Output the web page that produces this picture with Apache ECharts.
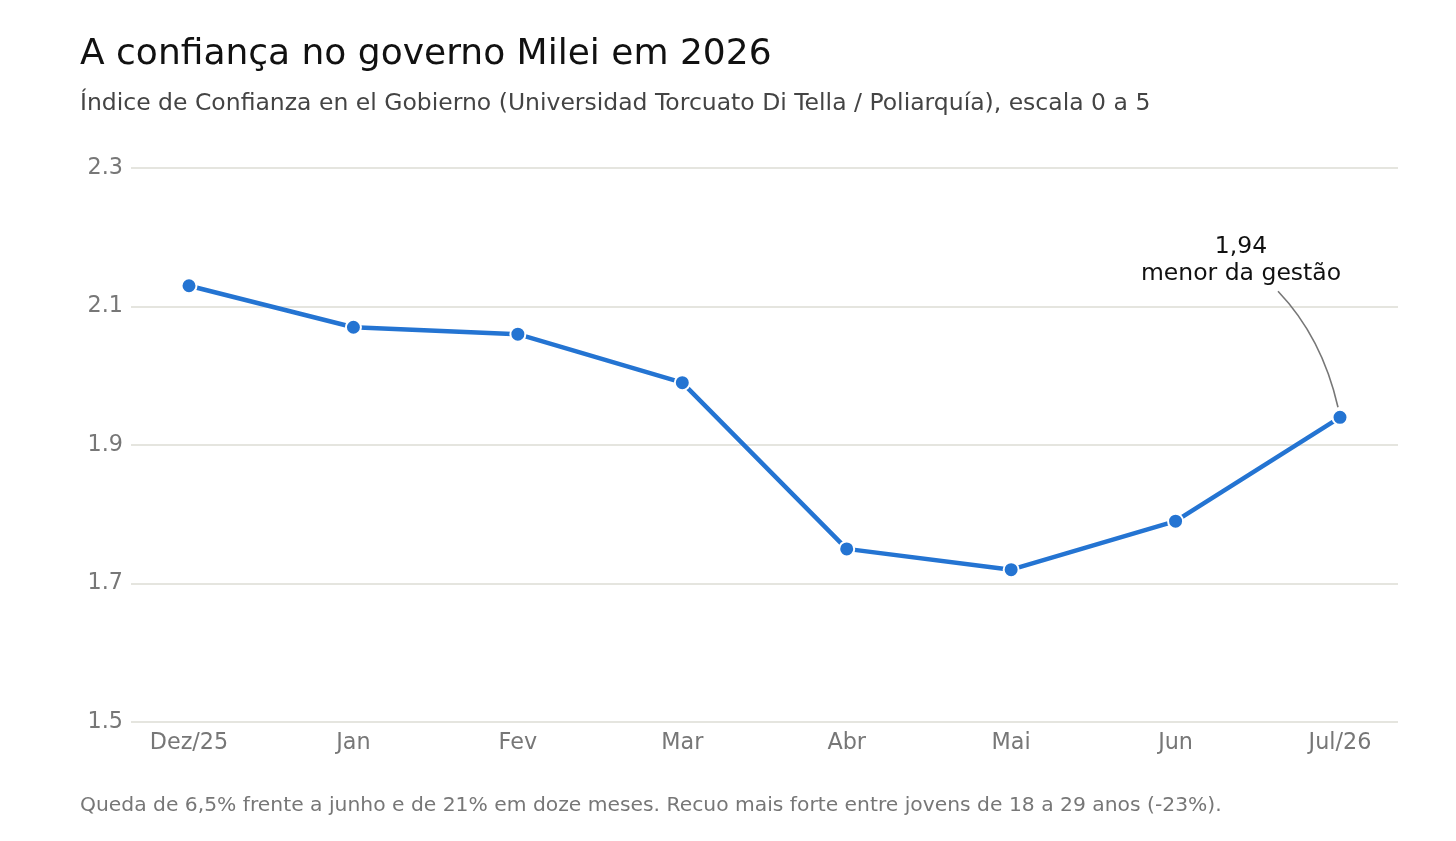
<!DOCTYPE html>
<html>
<head>
<meta charset="utf-8">
<script src="https://cdn.jsdelivr.net/npm/echarts@6/dist/echarts.min.js"></script>
<style>
  html, body { margin: 0; padding: 0; background: #fff; }
  #chart { width: 1456px; height: 841px; }
</style>
</head>
<body>
<div id="chart"></div>
<script>
// dados
var meses = ['Dez/25', 'Jan', 'Fev', 'Mar', 'Abr', 'Mai', 'Jun', 'Jul/26'];
var indice = [2.13, 2.07, 2.06, 1.99, 1.75, 1.72, 1.79, 1.94];
var yTicks = [1.5, 1.7, 1.9, 2.1, 2.3];
var nota = ['1,94', 'menor da gestão'];

var fonte = '"DejaVu Sans", sans-serif';
var chart = echarts.init(document.getElementById('chart'));

var option = {
    backgroundColor: '#fff',
    animation: false,
    textStyle: { fontFamily: fonte },
    title: [{
        text: 'A confiança no governo Milei em 2026',
        left: 80, top: 37, padding: 0,
        textStyle: { fontFamily: fonte, fontSize: 36, fontWeight: 'normal', color: '#111' }
    }, {
        text: 'Índice de Confianza en el Gobierno (Universidad Torcuato Di Tella / Poliarquía), escala 0 a 5',
        left: 80, top: 92, padding: 0,
        textStyle: { fontFamily: fonte, fontSize: 23.5, fontWeight: 'normal', color: '#444' }
    }, {
        text: 'Queda de 6,5% frente a junho e de 21% em doze meses. Recuo mais forte entre jovens de 18 a 29 anos (-23%).',
        left: 80, top: 796, padding: 0,
        textStyle: { fontFamily: fonte, fontSize: 20.3, fontWeight: 'normal', color: '#777' }
    }],
    grid: [
        // grade de fundo (linhas horizontais e eixo y)
        { left: 131, right: 58, top: 168, bottom: 119 },
        // grade dos dados
        { left: 189, right: 116, top: 168, bottom: 119 }
    ],
    xAxis: [{
        gridIndex: 0, type: 'value', min: 0, max: 1, show: false
    }, {
        gridIndex: 1, type: 'category', data: meses, boundaryGap: false,
        axisLine: { show: false }, axisTick: { show: false },
        axisLabel: { fontFamily: fonte, fontSize: 22.3, color: '#777', margin: 10 }
    }],
    yAxis: [{
        gridIndex: 0, type: 'value', min: yTicks[0], max: yTicks[yTicks.length - 1], interval: 0.2,
        axisLine: { show: false }, axisTick: { show: false },
        axisLabel: { fontFamily: fonte, fontSize: 22.3, color: '#777', margin: 8,
            padding: [4, 0, 0, 0],
            formatter: function (v) { return v.toFixed(1); } },
        splitLine: { lineStyle: { color: '#dcdcd4', width: 1.5 } }
    }, {
        gridIndex: 1, type: 'value', min: yTicks[0], max: yTicks[yTicks.length - 1], show: false
    }],
    series: [{
        type: 'line',
        xAxisIndex: 1, yAxisIndex: 1,
        data: indice,
        lineStyle: { color: '#2474d2', width: 4.5 },
        symbol: 'circle', symbolSize: 15,
        itemStyle: { color: '#2474d2', borderColor: '#fff', borderWidth: 2 },
        z: 3
    }]
};
chart.setOption(option);

// anotação presa ao último ponto
var ult = indice.length - 1;
var p = chart.convertToPixel({ xAxisIndex: 1, yAxisIndex: 1 }, [meses[ult], indice[ult]]);
chart.setOption({
    graphic: [{
        type: 'text',
        x: p[0] - 99, y: p[1] - 184,
        style: {
            text: nota.join('\n'),
            fontFamily: fonte, fontSize: 23.5, fill: '#111',
            align: 'center', lineHeight: 27
        }
    }, {
        type: 'bezierCurve',
        shape: {
            x1: p[0] - 62, y1: p[1] - 126,
            x2: p[0] - 2, y2: p[1] - 10,
            cpx1: p[0] - 18, cpy1: p[1] - 80
        },
        style: { stroke: '#777', lineWidth: 1.6, fill: null }
    }]
});
</script>
</body>
</html>
